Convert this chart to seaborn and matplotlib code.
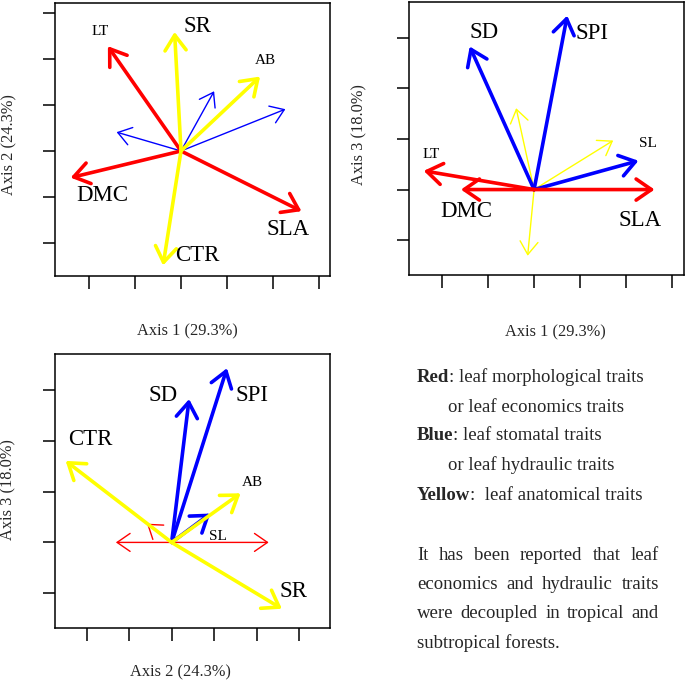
import numpy as np
import pandas as pd
import seaborn as sns
import matplotlib.pyplot as plt

# loadings of the nine leaf traits on the first three axes (tick units)
traits = ["LT", "DMC", "SLA", "SR", "AB", "CTR", "SD", "SPI", "SL"]
groups = ["red", "red", "red", "yellow", "yellow", "yellow", "blue", "blue", "blue"]
axis1 = [-1.59, -2.40, 2.62, -0.14, 1.72, -0.39, -1.40, 0.72, 2.27]
axis2 = [2.28, -0.58, -1.31, 2.59, 1.62, -2.49, 0.41, 1.30, 0.91]
axis3 = [0.00, 0.37, 0.00, -1.31, 0.97, 1.61, 2.83, 3.44, 0.57]
small_labels = ["LT", "AB", "SL"]

axis_names = {"a1": "Axis 1 (29.3%)", "a2": "Axis 2 (24.3%)", "a3": "Axis 3 (18.0%)"}

legend_lines = [
    ("Red", ": leaf morphological traits"),
    ("", "or leaf economics traits"),
    ("Blue", ": leaf stomatal traits"),
    ("", "or leaf hydraulic traits"),
    ("Yellow", ":  leaf anatomical traits"),
]
para_lines = [
    "It has been reported that leaf",
    "economics and hydraulic traits",
    "were decoupled in tropical and",
    "subtropical forests.",
]

df = pd.DataFrame({"trait": traits, "group": groups,
                   "a1": axis1, "a2": axis2, "a3": axis3})
colors = {"red": "#FF0000", "blue": "#0000FF", "yellow": "#FFFF00"}
draw_rank = {"blue": 0, "red": 1, "yellow": 2}

sns.set_theme(style="ticks")
plt.rcParams['font.family'] = ['Liberation Serif', 'DejaVu Serif']

W, H = 685, 680
fig = plt.figure(figsize=(W / 100, H / 100), dpi=100)


def px_axes(l, t, r, b):
    return fig.add_axes([l / W, 1 - b / H, (r - l) / W, (b - t) / H])


def fig_text(x, y, s, **kw):
    return fig.text(x / W, 1 - y / H, s, **kw)


# label offsets from arrow tips (data units), per panel
panels = [
    dict(x="a1", y="a2", box=(55, 3, 330, 276), xlim=(-2.74, 3.24), ylim=(-2.72, 3.22),
         bold=["red", "yellow"],
         offsets={"LT": (-0.16, 0.32), "SR": (0.50, 0.11), "AB": (0.12, 0.34),
                  "DMC": (0.68, -0.38), "SLA": (-0.29, -0.40), "CTR": (0.75, 0.22)},
         xlab=(187, 331), ylab=(9, 145)),
    dict(x="a1", y="a3", box=(409, 2, 684, 275), xlim=(-2.72, 3.26), ylim=(-1.69, 3.71),
         bold=["red", "blue"],
         offsets={"SD": (0.31, 0.27), "SPI": (0.54, -0.35), "SL": (0.21, 0.34),
                  "SLA": (-0.32, -0.61), "LT": (-0.64, 0.70), "DMC": (0.93, -0.81)},
         xlab=(555, 332), ylab=(359, 135)),
    dict(x="a2", y="a3", box=(55, 354, 330, 628), xlim=(-2.74, 3.72), ylim=(-1.69, 3.72),
         bold=["yellow", "blue"],
         offsets={"SD": (-0.62, 0.08), "SPI": (0.58, -0.53), "CTR": (0.57, 0.42),
                  "AB": (0.28, 0.21), "SL": (0.17, -0.46), "SR": (0.27, 0.34)},
         xlab=(180, 672), ylab=(8, 490)),
]

for p in panels:
    ax = px_axes(*p["box"])
    ax.set_xlim(*p["xlim"])
    ax.set_ylim(*p["ylim"])
    ax.set_xticks(range(-2, 4))
    ax.set_yticks(range(int(np.ceil(p["ylim"][0])), int(np.floor(p["ylim"][1])) + 1))
    ax.set_xticklabels([])
    ax.set_yticklabels([])
    ax.tick_params(direction="out", length=9, width=1.1, color="black",
                   bottom=True, left=True)
    for sp in ax.spines.values():
        sp.set_color("black")
        sp.set_linewidth(1.1)
        sp.set_visible(True)

    # thin arrows first, thick ones on top
    order = df.assign(thick=df["group"].isin(p["bold"]),
                      rank=df["group"].map(draw_rank))
    order = order.sort_values(["thick", "rank"], kind="stable")
    for _, row in order.iterrows():
        thick = row["thick"]
        ax.annotate("", xy=(row[p["x"]], row[p["y"]]), xytext=(0, 0),
                    arrowprops=dict(arrowstyle="->,head_length=0.55,head_width=0.38",
                                    color=colors[row["group"]],
                                    lw=2.6 if thick else 1.0,
                                    mutation_scale=20 if thick else 17,
                                    shrinkA=0, shrinkB=0))
        if row["trait"] in p["offsets"]:
            dx, dy = p["offsets"][row["trait"]]
            size = 11 if row["trait"] in small_labels else 16.5
            ax.text(row[p["x"]] + dx, row[p["y"]] + dy, row["trait"],
                    ha="center", va="center", fontsize=size, color="black")

    fig_text(*p["xlab"], axis_names[p["x"]], ha="center", va="center", fontsize=11.8)
    fig_text(*p["ylab"], axis_names[p["y"]], ha="center", va="center",
             fontsize=11.8, rotation=90)

# right-hand text block
renderer = fig.canvas.get_renderer()
fs = 13.5
left, indent, right = 417, 448, 659
legend_base = [382, 412, 440, 470, 500]
for (b, rest), yb in zip(legend_lines, legend_base):
    if b:
        t = fig_text(left, yb, b, fontsize=fs, fontweight="bold", va="baseline")
        w = t.get_window_extent(renderer).width
        fig_text(left + w, yb, rest, fontsize=fs, va="baseline")
    else:
        fig_text(indent, yb, rest, fontsize=fs, va="baseline")

para_base = [560, 589, 618, 648]
for i, (line, yb) in enumerate(zip(para_lines, para_base)):
    words = line.split()
    if i == len(para_lines) - 1:
        fig_text(left, yb, line, fontsize=fs, va="baseline")
        continue
    objs = [fig_text(0, yb, w, fontsize=fs, va="baseline") for w in words]
    widths = [o.get_window_extent(renderer).width for o in objs]
    gap = (right - left - sum(widths)) / (len(words) - 1)
    x = left
    for o, w in zip(objs, widths):
        o.set_x(x / W)
        x += w + gap

fig.savefig("out.png", dpi=100)
